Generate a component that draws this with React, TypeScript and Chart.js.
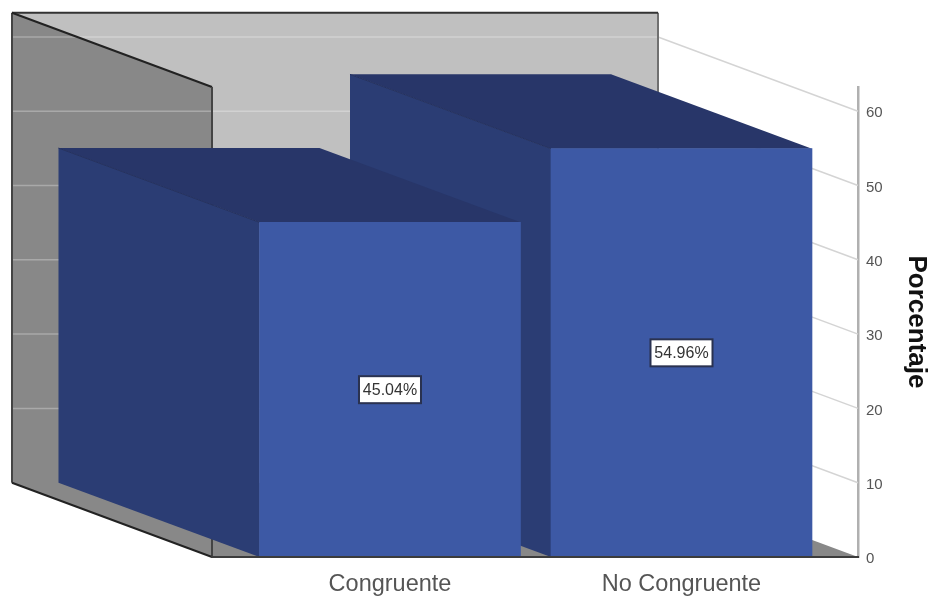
import React, { useEffect, useRef } from "react";
import { Chart, registerables } from "chart.js";

Chart.register(...registerables);

const categories = ["Congruente", "No Congruente"];
const porcentajes = [45.04, 54.96];
const yTicks = [0, 10, 20, 30, 40, 50, 60];
const yTitle = "Porcentaje";

const FONT = "'Liberation Sans', Arial, sans-serif";
const DEPTH_UNITS = 10; // receding depth, expressed in axis units
const WALL_DEPTH_X = 200;
const BAR_DEPTH_X = 201;

function polygon(ctx: CanvasRenderingContext2D, pts: number[][], fill: string) {
  ctx.beginPath();
  pts.forEach(([x, y], i) => (i ? ctx.lineTo(x, y) : ctx.moveTo(x, y)));
  ctx.closePath();
  ctx.fillStyle = fill;
  ctx.fill();
}

function segment(
  ctx: CanvasRenderingContext2D,
  x1: number,
  y1: number,
  x2: number,
  y2: number,
  color: string,
  width: number
) {
  ctx.beginPath();
  ctx.moveTo(x1, y1);
  ctx.lineTo(x2, y2);
  ctx.strokeStyle = color;
  ctx.lineWidth = width;
  ctx.stroke();
}

// Walls, floor and the extruded sides of each bar, painted under the front faces.
const box3d = {
  id: "box3d",
  beforeDatasetsDraw(chart: any) {
    const { ctx, chartArea: a, scales } = chart;
    const y = scales.y;
    const dy = y.getPixelForValue(0) - y.getPixelForValue(DEPTH_UNITS);
    const dx = WALL_DEPTH_X;
    const { left: l, right: r, top: t, bottom: b } = a;
    ctx.save();

    polygon(ctx, [[l - dx, t - dy], [r - dx, t - dy], [r - dx, b - dy], [l - dx, b - dy]], "#c0c0c0");
    polygon(ctx, [[l - dx, t - dy], [l, t], [l, b], [l - dx, b - dy]], "#888888");
    polygon(ctx, [[l - dx, b - dy], [r - dx, b - dy], [r, b], [l, b]], "#888888");

    yTicks.filter((v) => v > 0).forEach((v) => {
      const py = y.getPixelForValue(v);
      // Where this gridline leaves the side wall, below its slanted top edge.
      const wallEnd = Math.min(l, l - dx + (dx * (py - t)) / dy);
      segment(ctx, l - dx, py - dy, wallEnd, py - dy, "#a9a9a9", 1.5);
      segment(ctx, wallEnd, py - dy, r - dx, py - dy, "#d2d2d2", 1.5);
      segment(ctx, r - dx, py - dy, r, py, "#d4d4d4", 1.5);
    });

    segment(ctx, r - dx, t - dy, r - dx, b - dy, "#707070", 2);
    segment(ctx, l - dx, t - dy, r - dx, t - dy, "#333333", 2);
    segment(ctx, l - dx, t - dy, l - dx, b - dy, "#444444", 2);
    segment(ctx, l - dx, t - dy, l, t, "#222222", 2);
    segment(ctx, l, t, l, b, "#444444", 2);
    segment(ctx, l - dx, b - dy, l, b, "#222222", 2);

    // The far bar goes first so the near bar's top can overlap its side.
    const bars = chart.getDatasetMeta(0).data;
    for (let i = bars.length - 1; i >= 0; i--) {
      const { x, y: top, width } = bars[i].getProps(["x", "y", "width"], true);
      const x0 = x - width / 2;
      const x1 = x + width / 2;
      polygon(ctx, [[x0, top], [x0 - BAR_DEPTH_X, top - dy], [x0 - BAR_DEPTH_X, b - dy], [x0, b]], "#2b3d74");
      polygon(ctx, [[x0 - BAR_DEPTH_X, top - dy], [x1 - BAR_DEPTH_X, top - dy], [x1, top], [x0, top]], "#283669");
      segment(ctx, x0 - BAR_DEPTH_X, top - dy, x0, top, "#24315f", 1);
    }
    ctx.restore();
  },
  // Boxed value label in the middle of each front face.
  afterDatasetsDraw(chart: any) {
    const { ctx, scales } = chart;
    const bars = chart.getDatasetMeta(0).data;
    ctx.save();
    bars.forEach((bar: any, i: number) => {
      const { x, y: top } = bar.getProps(["x", "y"], true);
      const cy = (top + scales.y.getPixelForValue(0)) / 2;
      const w = 62;
      const h = 27;
      ctx.fillStyle = "#ffffff";
      ctx.strokeStyle = "#2a3250";
      ctx.lineWidth = 2;
      ctx.fillRect(x - w / 2, cy - h / 2, w, h);
      ctx.strokeRect(x - w / 2, cy - h / 2, w, h);
      ctx.fillStyle = "#333333";
      ctx.font = `16px ${FONT}`;
      ctx.textAlign = "center";
      ctx.textBaseline = "middle";
      ctx.fillText(`${porcentajes[i].toFixed(2)}%`, x, cy + 1);
    });
    ctx.restore();
  },
};

export default function App() {
  const ref = useRef<HTMLCanvasElement>(null);

  useEffect(() => {
    const chart = new Chart(ref.current!, {
      type: "bar",
      data: {
        datasets: [
          {
            data: porcentajes.map((v, i) => ({ x: i, y: v })),
            backgroundColor: "#3d59a5",
            borderWidth: 0,
            barThickness: 261,
          },
        ],
      },
      plugins: [box3d],
      options: {
        responsive: false,
        animation: false,
        layout: { padding: { left: 212, top: 87, right: 0, bottom: 0 } },
        plugins: { legend: { display: false }, tooltip: { enabled: false } },
        scales: {
          x: {
            type: "linear",
            offset: false,
            min: -0.6106,
            max: 1.6055,
            grid: { display: false, drawTicks: false },
            border: { display: true, color: "#3c3c3c", width: 2, z: 1 },
            afterFit: (s: any) => {
              s.height = 39;
            },
            afterBuildTicks: (s: any) => {
              s.ticks = categories.map((_, i) => ({ value: i }));
            },
            ticks: {
              color: "#555555",
              font: { family: FONT, size: 23.5 },
              padding: 13,
              maxRotation: 0,
              autoSkip: false,
              callback: (v: any) => categories[v],
            },
          },
          y: {
            position: "right",
            min: 0,
            max: 63.26,
            grid: { display: false, drawTicks: false },
            border: { display: true, color: "#b0b0b0", width: 2.5 },
            afterFit: (s: any) => {
              s.width = 74;
            },
            afterBuildTicks: (s: any) => {
              s.ticks = yTicks.map((value) => ({ value }));
            },
            ticks: {
              color: "#555555",
              font: { family: FONT, size: 15 },
              padding: 8,
              labelOffset: 2,
            },
            title: {
              display: true,
              text: yTitle,
              color: "#111111",
              font: { family: FONT, size: 26, weight: "bold" },
              padding: { top: 0, bottom: 0 },
            },
          },
        },
      },
    } as any);
    return () => chart.destroy();
  }, []);

  return (
    <div style={{ position: "absolute", left: 0, top: 0, width: 932, height: 596, background: "#ffffff" }}>
      <canvas ref={ref} width={932} height={596} style={{ display: "block" }} />
    </div>
  );
}
